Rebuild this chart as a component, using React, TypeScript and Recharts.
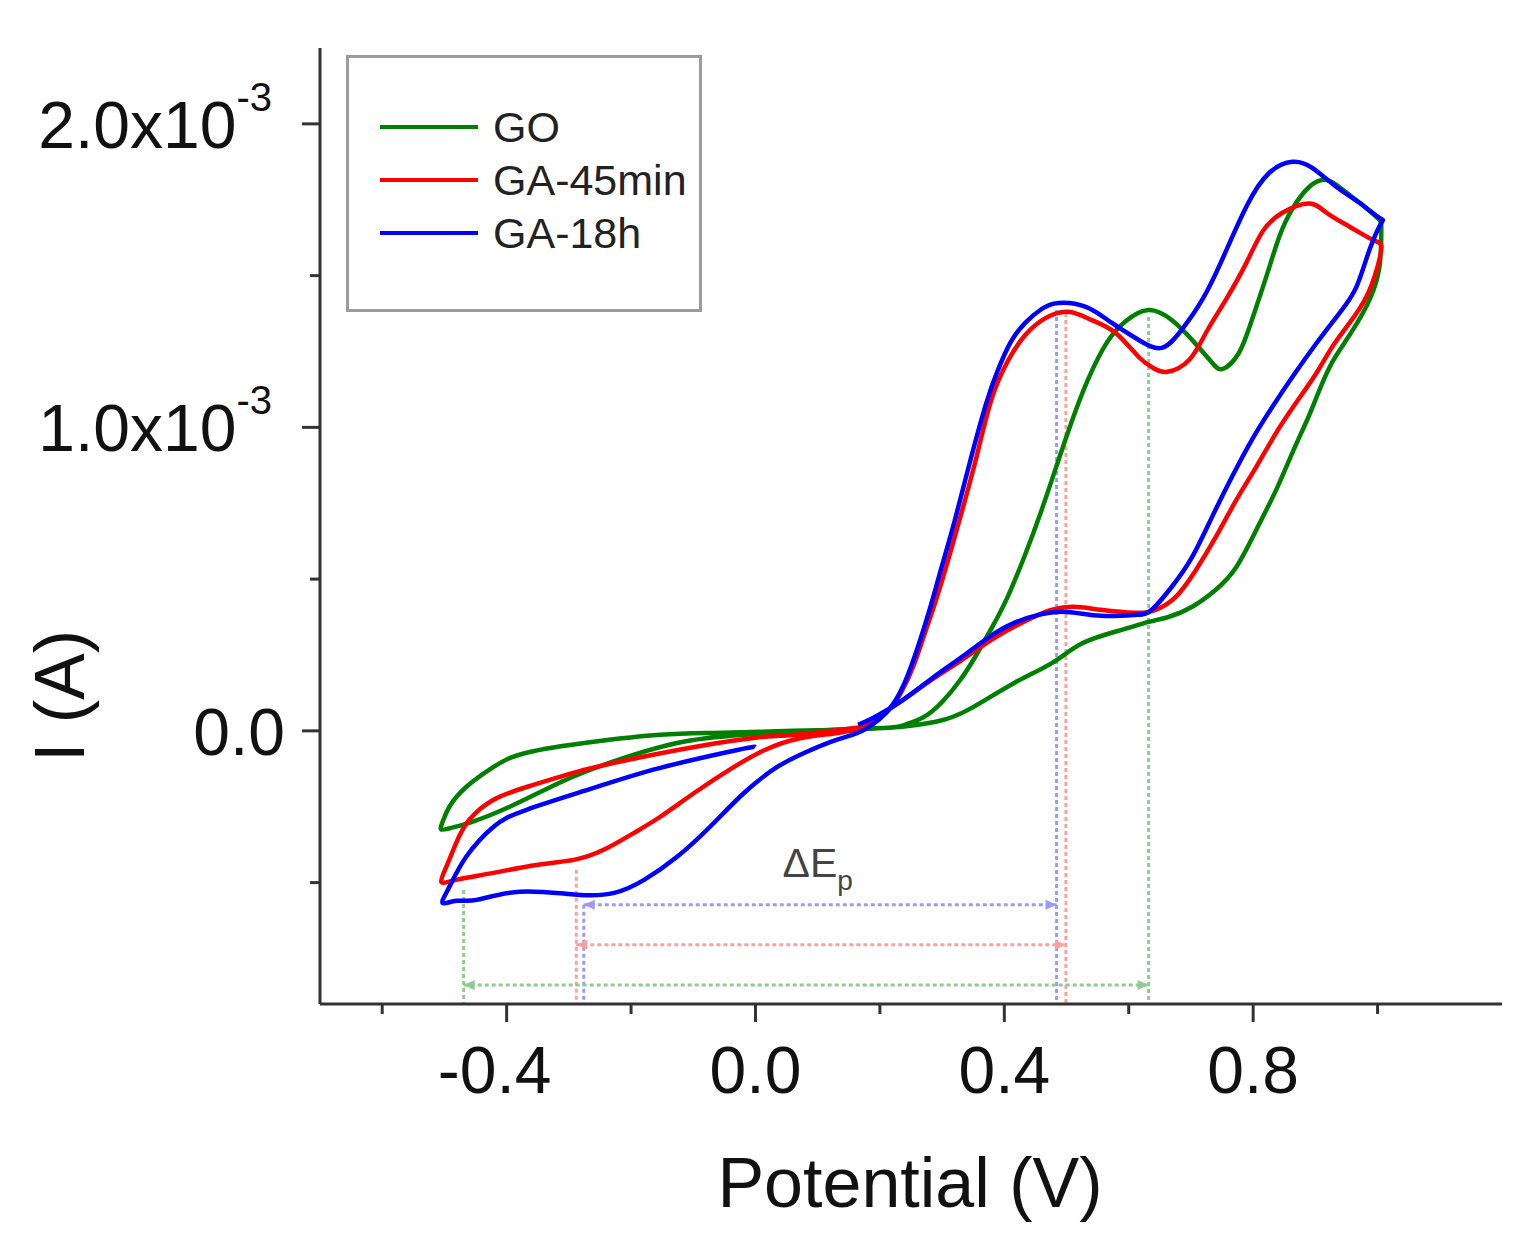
import { LineChart, Line, XAxis, YAxis, Legend, ReferenceLine, ReferenceDot } from "recharts";

const FONT = '"Liberation Sans", Arial, Helvetica, sans-serif';
const AXIS = "#333";

// potential (V) and current (x10^-3 A), traced along each loop
const goV = [0.14, 0.06, 0.008, -0.07, -0.153, -0.26, -0.368, -0.421, -0.465, -0.492, -0.503, -0.505, -0.49, -0.46, -0.395, -0.315, -0.234, -0.126, -0.018, 0.116, 0.213, 0.24, 0.27, 0.3, 0.33, 0.355, 0.38, 0.405, 0.432, 0.46, 0.49, 0.512, 0.535, 0.565, 0.595, 0.632, 0.669, 0.702, 0.734, 0.752, 0.777, 0.798, 0.821, 0.842, 0.863, 0.89, 0.918, 0.944, 0.971, 1.0, 1.006, 1.003, 0.987, 0.966, 0.944, 0.923, 0.902, 0.888, 0.863, 0.837, 0.805, 0.773, 0.74, 0.702, 0.665, 0.632, 0.589, 0.527, 0.477, 0.416, 0.347, 0.29, 0.213, 0.15];
const goI = [0.004, 0.0, -0.003, -0.007, -0.013, -0.036, -0.072, -0.119, -0.185, -0.25, -0.3, -0.325, -0.32, -0.303, -0.25, -0.171, -0.105, -0.04, -0.013, 0.003, 0.01, 0.02, 0.045, 0.095, 0.17, 0.25, 0.34, 0.44, 0.573, 0.728, 0.91, 1.04, 1.16, 1.28, 1.35, 1.387, 1.354, 1.288, 1.213, 1.193, 1.245, 1.354, 1.496, 1.628, 1.72, 1.792, 1.815, 1.783, 1.74, 1.69, 1.651, 1.529, 1.42, 1.34, 1.27, 1.199, 1.1, 1.03, 0.916, 0.794, 0.662, 0.54, 0.465, 0.409, 0.376, 0.359, 0.333, 0.29, 0.224, 0.158, 0.075, 0.03, 0.01, 0.005];

const ga45V = [0.17, 0.1, 0.05, 0.003, -0.098, -0.206, -0.287, -0.368, -0.421, -0.46, -0.481, -0.497, -0.505, -0.481, -0.421, -0.352, -0.292, -0.244, -0.195, -0.153, -0.098, -0.037, 0.015, 0.07, 0.132, 0.176, 0.195, 0.215, 0.235, 0.255, 0.272, 0.29, 0.31, 0.33, 0.355, 0.379, 0.406, 0.434, 0.466, 0.503, 0.54, 0.579, 0.616, 0.64, 0.662, 0.697, 0.724, 0.756, 0.789, 0.815, 0.847, 0.89, 0.918, 0.955, 0.992, 1.006, 1.0, 0.982, 0.955, 0.927, 0.902, 0.869, 0.837, 0.805, 0.773, 0.74, 0.708, 0.676, 0.644, 0.611, 0.555, 0.511, 0.477, 0.444, 0.387, 0.332, 0.276, 0.221, 0.17];
const ga45I = [0.012, -0.005, -0.015, -0.022, -0.053, -0.096, -0.135, -0.185, -0.227, -0.293, -0.369, -0.448, -0.498, -0.491, -0.468, -0.442, -0.425, -0.392, -0.336, -0.283, -0.204, -0.122, -0.063, -0.025, -0.007, 0.013, 0.035, 0.07, 0.13, 0.22, 0.32, 0.43, 0.565, 0.71, 0.9, 1.09, 1.22, 1.305, 1.36, 1.381, 1.354, 1.311, 1.232, 1.195, 1.183, 1.222, 1.311, 1.42, 1.542, 1.645, 1.707, 1.738, 1.707, 1.661, 1.618, 1.598, 1.53, 1.43, 1.344, 1.265, 1.18, 1.081, 0.982, 0.87, 0.761, 0.639, 0.53, 0.442, 0.399, 0.389, 0.399, 0.409, 0.399, 0.372, 0.31, 0.234, 0.158, 0.079, 0.02];

const ga18V = [0.0, -0.029, -0.153, -0.26, -0.368, -0.421, -0.465, -0.492, -0.503, -0.481, -0.448, -0.379, -0.287, -0.227, -0.179, -0.126, -0.073, -0.018, 0.035, 0.079, 0.121, 0.16, 0.18, 0.2, 0.22, 0.24, 0.26, 0.28, 0.3, 0.32, 0.344, 0.371, 0.39, 0.41, 0.434, 0.46, 0.487, 0.531, 0.573, 0.616, 0.653, 0.685, 0.718, 0.75, 0.789, 0.826, 0.863, 0.895, 0.934, 0.971, 1.003, 1.006, 0.987, 0.966, 0.939, 0.902, 0.863, 0.831, 0.798, 0.766, 0.734, 0.702, 0.669, 0.637, 0.611, 0.555, 0.5, 0.455, 0.416, 0.376, 0.332, 0.287, 0.237, 0.192, 0.165];
const ga18I = [-0.053, -0.063, -0.122, -0.188, -0.26, -0.316, -0.415, -0.514, -0.567, -0.56, -0.557, -0.53, -0.54, -0.534, -0.491, -0.415, -0.316, -0.204, -0.119, -0.072, -0.036, -0.01, 0.01, 0.04, 0.085, 0.16, 0.27, 0.4, 0.545, 0.69, 0.88, 1.08, 1.19, 1.28, 1.345, 1.39, 1.41, 1.397, 1.344, 1.288, 1.262, 1.321, 1.42, 1.552, 1.727, 1.839, 1.875, 1.855, 1.792, 1.74, 1.69, 1.674, 1.585, 1.463, 1.377, 1.278, 1.166, 1.068, 0.959, 0.837, 0.705, 0.573, 0.474, 0.399, 0.382, 0.379, 0.392, 0.382, 0.356, 0.31, 0.244, 0.178, 0.102, 0.046, 0.02];

// peak separation markers (dE_p): cathodic / anodic peak potentials, arrow level, line tops
const sepColors = ["#8fcc8f", "#ffa0a0", "#9a9aff"];
const sepLeft = [-0.469, -0.288, -0.276];
const sepRight = [0.632, 0.499, 0.484];
const sepLevel = [-0.837, -0.705, -0.573];
const sepLeftTop = [-0.524, -0.458, -0.573];
const sepRightTop = [1.364, 1.377, 1.387];

const xTicks = [-0.6, -0.4, -0.2, 0, 0.2, 0.4, 0.6, 0.8, 1.0];
const yTicks = [-0.0005, 0, 0.0005, 0.001, 0.0015, 0.002];

const toPoints = (vs: number[], is: number[]) => vs.map((v, i) => ({ x: v, y: is[i] * 1e-3 }));

const series = [
  { name: "GO", color: "#008000", data: toPoints(goV, goI) },
  { name: "GA-45min", color: "#ff0000", data: toPoints(ga45V, ga45I) },
  { name: "GA-18h", color: "#0000ff", data: toPoints(ga18V, ga18I) },
];
const order = series.map((s) => s.name);

function XTick({ x, y, payload }: any) {
  const v = payload.value;
  const major = Math.round(v * 10) % 4 === 0;
  return (
    <g>
      <line x1={x} x2={x} y1={y} y2={y + (major ? 18 : 10)} stroke={AXIS} strokeWidth={3} />
      {major && (
        <text x={x + (v < 0 ? -12 : 0)} y={y + 89} textAnchor="middle" fontSize={66} fontFamily={FONT} fill="#111">
          {v.toFixed(1)}
        </text>
      )}
    </g>
  );
}

function YTick({ x, y, payload }: any) {
  const m = payload.value * 1000;
  const major = Math.abs(m - Math.round(m)) < 1e-6;
  return (
    <g>
      <line x1={x} x2={x - (major ? 18 : 10)} y1={y} y2={y} stroke={AXIS} strokeWidth={3} />
      {major && Math.round(m) === 0 && (
        <text x={x - 35} y={y + 24} textAnchor="end" fontSize={66} fontFamily={FONT} fill="#111">0.0</text>
      )}
      {major && Math.round(m) !== 0 && (
        <text x={x - 48} y={y + 24} textAnchor="end" fontSize={66} fontFamily={FONT} fill="#111">
          {m.toFixed(1)}x10<tspan fontSize={40} dy={-37}>-3</tspan>
        </text>
      )}
    </g>
  );
}

const renderLegend = (props: any) => {
  const items = [...(props.payload || [])].sort((a: any, b: any) => order.indexOf(a.value) - order.indexOf(b.value));
  return (
    <div style={{ width: 356, height: 257, border: "3px solid #9b9b9b", boxSizing: "border-box", position: "relative", fontFamily: FONT, background: "#fff" }}>
      {items.map((e: any, i: number) => (
        <div key={i} style={{ position: "absolute", left: 31, top: 47 + i * 53, height: 44, display: "flex", alignItems: "center" }}>
          <span style={{ display: "inline-block", width: 98, height: 4, background: e.color }} />
          <span style={{ marginLeft: 15, fontSize: 43, color: "#222", lineHeight: "44px" }}>{e.value}</span>
        </div>
      ))}
    </div>
  );
};

const arrowHead = (dir: number, color: string) => (p: any) =>
  <path d={`M${p.cx} ${p.cy} l${-dir * 11} -5 v10 z`} fill={color} />;

export default function App() {
  return (
    <div style={{ width: 1520, height: 1233, background: "#fff" }}>
      <LineChart width={1520} height={1233} margin={{ top: 40, right: 26, bottom: 117, left: 12 }}>
        <XAxis
          type="number"
          dataKey="x"
          domain={[-0.7, 1.2]}
          ticks={xTicks}
          interval={0}
          allowDataOverflow
          height={120}
          axisLine={{ stroke: AXIS, strokeWidth: 3 }}
          tickLine={false}
          tickSize={0}
          tickMargin={0}
          tick={<XTick />}
          label={{
            value: "Potential (V)",
            content: () => (
              <text x={902} y={1199} textAnchor="middle" fontSize={70} fontFamily={FONT} fill="#111">Potential (V)</text>
            ),
          }}
        />
        <YAxis
          type="number"
          domain={[-0.0009, 0.00225]}
          ticks={yTicks}
          interval={0}
          allowDataOverflow
          width={300}
          axisLine={{ stroke: AXIS, strokeWidth: 3 }}
          tickLine={false}
          tickSize={0}
          tickMargin={0}
          tick={<YTick />}
          label={{
            value: "I (A)",
            content: () => (
              <text x={76} y={688} transform="rotate(-90, 76, 688)" textAnchor="middle" fontSize={70} fontFamily={FONT} fill="#111">I (A)</text>
            ),
          }}
        />
        <Legend
          layout="vertical"
          align="center"
          verticalAlign="middle"
          content={renderLegend}
          wrapperStyle={{ left: 338, top: 47, width: 356, height: 257 }}
        />

        {sepColors.map((c, i) => (
          <ReferenceLine key={`vl${i}`} segment={[{ x: sepLeft[i], y: sepLeftTop[i] * 1e-3 }, { x: sepLeft[i], y: -0.0009 }]} stroke={c} strokeWidth={3} strokeDasharray="4 3" ifOverflow="visible" />
        ))}
        {sepColors.map((c, i) => (
          <ReferenceLine key={`vr${i}`} segment={[{ x: sepRight[i], y: sepRightTop[i] * 1e-3 }, { x: sepRight[i], y: -0.0009 }]} stroke={c} strokeWidth={3} strokeDasharray="4 3" ifOverflow="visible" />
        ))}
        {sepColors.map((c, i) => (
          <ReferenceLine key={`h${i}`} segment={[{ x: sepLeft[i], y: sepLevel[i] * 1e-3 }, { x: sepRight[i], y: sepLevel[i] * 1e-3 }]} stroke={c} strokeWidth={3} strokeDasharray="4 3" ifOverflow="visible" />
        ))}
        {sepColors.map((c, i) => (
          <ReferenceDot key={`al${i}`} x={sepLeft[i]} y={sepLevel[i] * 1e-3} r={0} shape={arrowHead(-1, c)} ifOverflow="visible" />
        ))}
        {sepColors.map((c, i) => (
          <ReferenceDot key={`ar${i}`} x={sepRight[i]} y={sepLevel[i] * 1e-3} r={0} shape={arrowHead(1, c)} ifOverflow="visible" />
        ))}
        <ReferenceDot
          x={0.0435}
          y={-0.481e-3}
          r={0}
          ifOverflow="visible"
          shape={(p: any) => (
            <text x={p.cx} y={p.cy} fontSize={41} fontFamily={FONT} fill="#444">
              ΔE<tspan fontSize={28} dy={13}>p</tspan>
            </text>
          )}
        />

        {series.map((s) => (
          <Line
            key={s.name}
            name={s.name}
            data={s.data}
            dataKey="y"
            type="natural"
            stroke={s.color}
            strokeWidth={4.5}
            dot={false}
            activeDot={false}
            isAnimationActive={false}
          />
        ))}
      </LineChart>
    </div>
  );
}
